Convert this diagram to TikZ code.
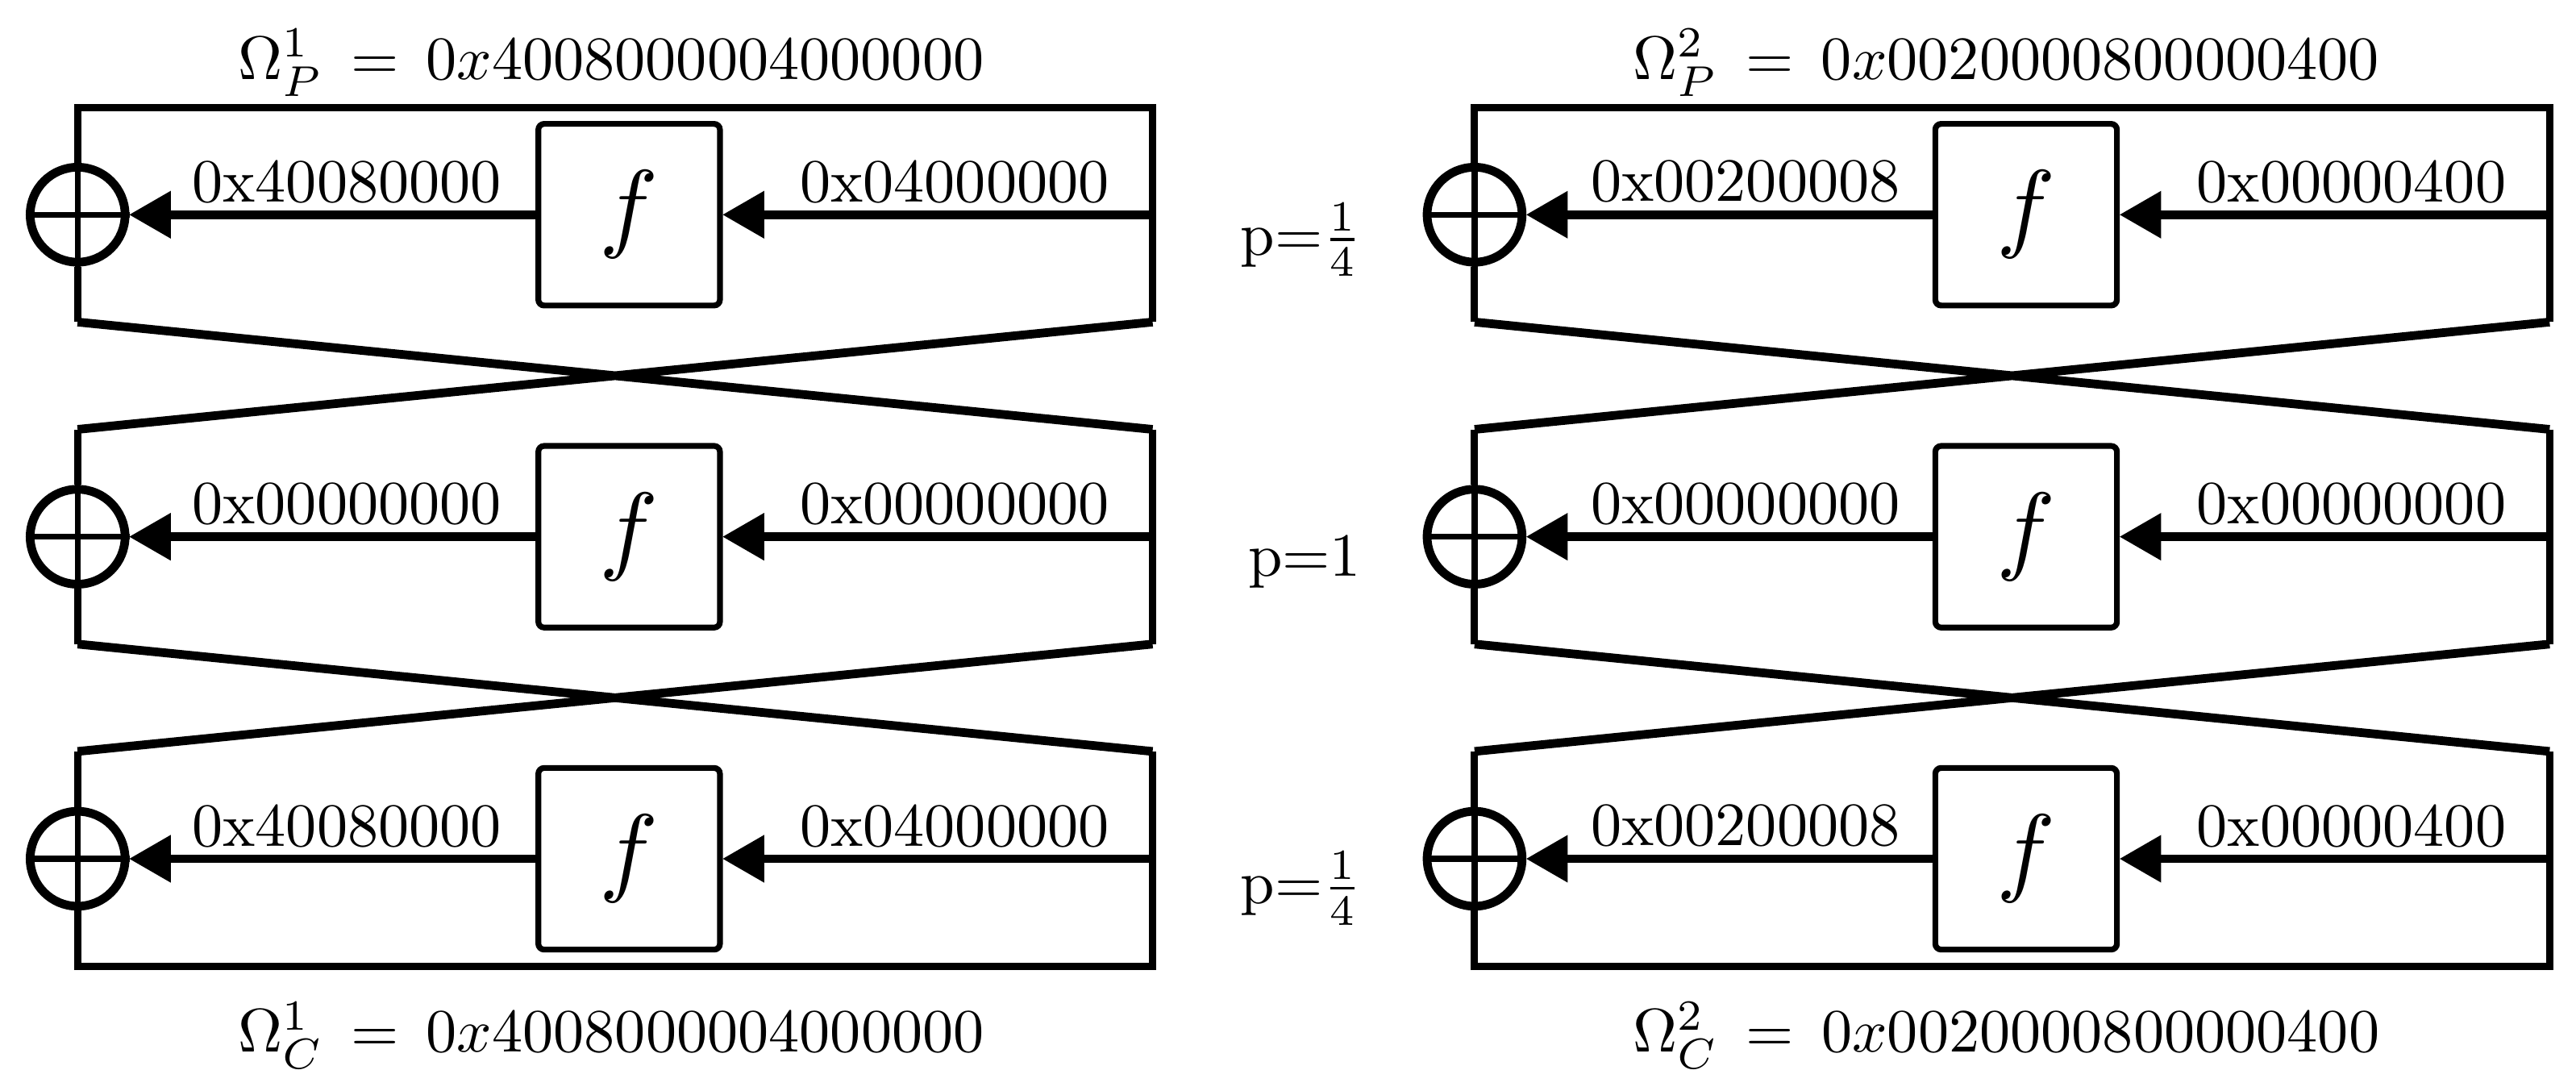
\documentclass[tikz,border=0pt]{standalone}
\usetikzlibrary{arrows}
\begin{document}
\begin{tikzpicture}[x=0.02cm,y=-0.02cm]
\tikzstyle{fbox}=[draw,line width=2pt,rounded corners=2pt,minimum width=2.2cm,minimum height=2.2cm,inner sep=0pt]
\tikzstyle{xor}=[draw,circle,line width=3pt,minimum size=1.15cm,inner sep=0pt]
\tikzstyle{lbl}=[font=\normalsize,inner sep=0pt,scale=2.12,transform shape]
\tikzstyle{wire}=[line width=2.5pt]
\tikzstyle{arr}=[line width=3pt,-triangle 60]
\newcommand{\fn}{\scalebox{3.4}{$f$}}
\useasboundingbox (0,0) rectangle (1560,660.6);

\foreach \bx/\fx/\nm in {47/381/L,893/1227/R}{
  \coordinate (\nm top) at (\bx,65);
  \foreach \r/\cy in {1/130,2/325,3/520}{
    \node[xor] (\nm x\r) at (\bx,\cy) {};
    \draw[line width=2pt] (\nm x\r.north) -- (\nm x\r.south) (\nm x\r.west) -- (\nm x\r.east);
    \node[fbox] (\nm f\r) at (\fx,\cy) {\fn};
    \coordinate (\nm in\r) at (\bx+651,\cy);
    \draw[arr] (\nm in\r) -- (\nm f\r);
    \draw[arr] (\nm f\r) -- (\nm x\r);
  }
  % outer frame of each round
  \draw[wire] (\bx,195) -- (\nm x1) (\nm x1) -- (\bx,65) -- (\bx+651,65) -- (\bx+651,195);
  \draw[wire] (\bx,260) -- (\nm x2) (\nm x2) -- (\bx,390);
  \draw[wire] (\bx+651,260) -- (\bx+651,390);
  \draw[wire] (\bx,455) -- (\nm x3) (\nm x3) -- (\bx,585) -- (\bx+651,585) -- (\bx+651,455);
  % swaps
  \draw[line width=3pt] (\bx,195) -- (\bx+651,260) (\bx+651,195) -- (\bx,260);
  \draw[line width=3pt] (\bx,390) -- (\bx+651,455) (\bx+651,390) -- (\bx,455);
}

\foreach \r/\cy in {1/110,3/500}{
  \node[lbl] at (210,\cy) {0x40080000};
  \node[lbl] at (578,\cy) {0x04000000};
  \node[lbl] at (1057,\cy) {0x00200008};
  \node[lbl] at (1424,\cy) {0x00000400};
}
\node[lbl] at (210,305) {0x00000000};
\node[lbl] at (578,305) {0x00000000};
\node[lbl] at (1057,305) {0x00000000};
\node[lbl] at (1424,305) {0x00000000};

\node[lbl] (p1) at (788,145) {p=$\frac14$};
\node[lbl] (p2) at (790,340) {p=1};
\node[lbl] (p3) at (788,538) {p=$\frac14$};

\node[lbl] (omp1) at (370,38) {$\Omega_P^1\,=\,0x4008000004000000$};
\node[lbl] (omp2) at (1215,38) {$\Omega_P^2\,=\,0x0020000800000400$};
\node[lbl] (omc1) at (370,627) {$\Omega_C^1\,=\,0x4008000004000000$};
\node[lbl] (omc2) at (1215,627) {$\Omega_C^2\,=\,0x0020000800000400$};
\end{tikzpicture}
\end{document}
